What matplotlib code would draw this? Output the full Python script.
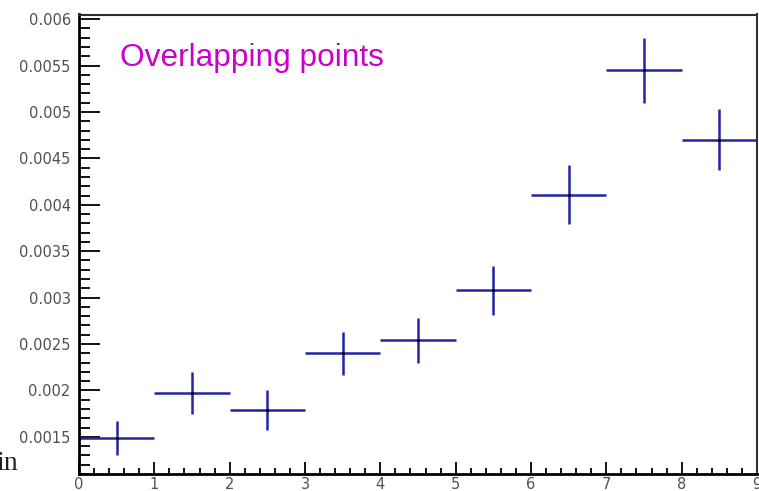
"""Binned measurement with x/y error crosses, ROOT-like frame and ticks."""
import numpy as np
import matplotlib
matplotlib.use("Agg")
import matplotlib.pyplot as plt
from matplotlib.ticker import MultipleLocator, FuncFormatter

# bin centres, contents and errors
bin_centers = [0.5, 1.5, 2.5, 3.5, 4.5, 5.5, 6.5, 7.5, 8.5]
bin_half_width = [0.5] * 9
values = [0.00149, 0.00197, 0.00179, 0.00240, 0.00254, 0.00308, 0.00411, 0.00545, 0.00470]
errors = [0.00018, 0.000225, 0.000215, 0.000235, 0.00024, 0.000265, 0.00032, 0.00035, 0.00033]

C_ERR = "#2424a8"

fig = plt.figure(figsize=(7.59, 4.91), dpi=100)
ax = fig.add_axes([79 / 759, 1 - 474 / 491, (757 - 79) / 759, (474 - 14.5) / 491])

ax.errorbar(bin_centers, values, xerr=bin_half_width, yerr=errors,
            fmt="none", ecolor=C_ERR, elinewidth=1.8, capsize=0, clip_on=False)
ax.plot(bin_centers, values, ls="none", marker="o", ms=1.2, color="black")

ax.set_xlim(0, 9)
ax.set_ylim(0.0011, 0.00605)

ax.xaxis.set_major_locator(MultipleLocator(1))
ax.xaxis.set_minor_locator(MultipleLocator(0.2))
ax.yaxis.set_major_locator(MultipleLocator(0.0005))
ax.yaxis.set_minor_locator(MultipleLocator(0.0001))
ax.yaxis.set_major_formatter(FuncFormatter(lambda v, p: f"{v:g}"))
ax.xaxis.set_major_formatter(FuncFormatter(lambda v, p: f"{v:g}"))

ax.tick_params(axis="y", which="major", direction="in", length=15, width=1.3, pad=6,
               labelsize=10.5, labelcolor="#505050")
ax.tick_params(axis="y", which="minor", direction="in", length=8, width=1.3)
ax.tick_params(axis="x", which="major", direction="in", length=9, width=1.3, pad=2,
               labelsize=10.5, labelcolor="#505050")
ax.tick_params(axis="x", which="minor", direction="in", length=4.5, width=1.3)

for side in ("left", "bottom"):
    ax.spines[side].set_linewidth(2.0)
for side in ("top", "right"):
    ax.spines[side].set_linewidth(1.5)
    ax.spines[side].set_color("#303030")

fig.text(120 / 759, 1 - 66 / 491, "Overlapping points", color="#cc00cc",
         family="Liberation Sans", fontsize=22.8, va="baseline", ha="left")
fig.text(18 / 759, 1 - 470 / 491, "in", family="Liberation Serif",
         fontsize=20, va="baseline", ha="right", color="#202020")

fig.savefig("out.png", dpi=100)
